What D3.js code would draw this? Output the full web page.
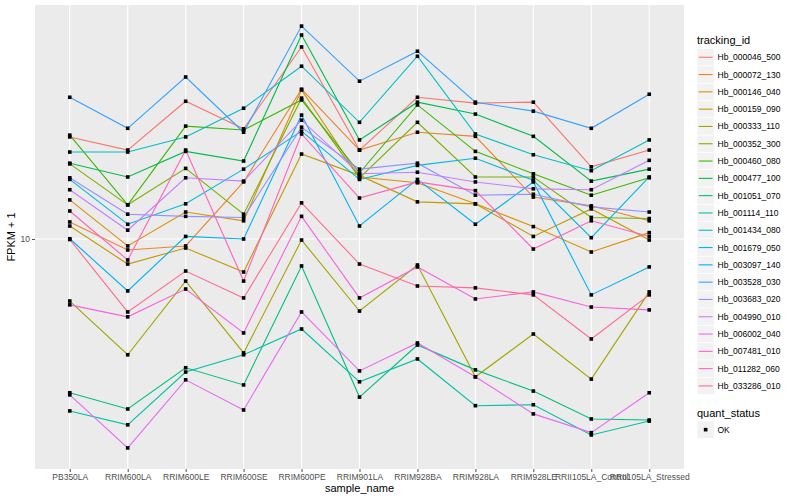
<!DOCTYPE html>
<html><head><meta charset="utf-8">
<script src="https://cdn.jsdelivr.net/npm/d3@7"></script>
<style>body{margin:0;background:#fff}</style>
</head><body>
<svg id="c" width="800" height="500"></svg>
<script>
const samples = ["PB350LA","RRIM600LA","RRIM600LE","RRIM600SE","RRIM600PE","RRIM901LA","RRIM928BA","RRIM928LA","RRIM928LE","RRII105LA_Control","RRII105LA_Stressed"];
const trackingIds = ["Hb_000046_500","Hb_000072_130","Hb_000146_040","Hb_000159_090","Hb_000333_110","Hb_000352_300","Hb_000460_080","Hb_000477_100","Hb_001051_070","Hb_001114_110","Hb_001434_080","Hb_001679_050","Hb_003097_140","Hb_003528_030","Hb_003683_020","Hb_004990_010","Hb_006002_040","Hb_007481_010","Hb_011282_060","Hb_033286_010"];
const seriesColors = ["#F8766D","#EA8331","#D89000","#C09B00","#A3A500","#7CAE00","#39B600","#00BB4E","#00BF7D","#00C1A3","#00BFC4","#00BAE0","#00B0F6","#35A2FF","#9590FF","#C77CFF","#E76BF3","#FA62DB","#FF62BC","#FF6C91"];
const yTicks = [10];
const quantStatus = ["OK"];

// FPKM + 1 per sample, one array per tracking_id
const hb_000046_500 = [21.9, 19.8, 28.8, 23.3, 43.7, 19.8, 29.7, 28.4, 28.6, 17.4, 19.8];
const hb_000072_130 = [11.4, 9.19, 9.48, 15.5, 31.6, 19.8, 22.7, 22.0, 13.8, 12.9, 11.5];
const hb_000146_040 = [13.5, 9.48, 12.3, 11.5, 31.4, 16.1, 15.4, 13.1, 11.0, 9.05, 10.5];
const hb_000159_090 = [11.05, 8.25, 9.33, 7.76, 19.2, 16.3, 13.3, 13.1, 10.2, 12.6, 9.92];
const hb_000333_110 = [6.21, 4.11, 7.24, 4.17, 9.92, 5.75, 8.19, 3.47, 4.82, 3.41, 6.66];
const hb_000352_300 = [17.8, 13.0, 17.2, 12.1, 29.5, 16.0, 24.5, 16.1, 16.1, 11.8, 11.7];
const hb_000460_080 = [22.2, 13.0, 23.8, 23.1, 29.1, 16.6, 28.0, 19.6, 16.5, 14.0, 16.0];
const hb_000477_100 = [17.9, 16.1, 19.6, 18.2, 47.9, 21.4, 28.6, 26.1, 22.0, 15.6, 17.1];
const hb_001051_070 = [3.07, 2.71, 3.72, 3.26, 8.13, 2.97, 4.43, 3.66, 3.11, 2.51, 2.49];
const hb_001114_110 = [2.67, 2.40, 3.60, 4.11, 5.01, 3.34, 3.98, 2.78, 2.80, 2.22, 2.47];
const hb_001434_080 = [19.5, 19.5, 21.9, 27.3, 37.7, 24.5, 40.7, 22.4, 19.1, 16.9, 21.4];
const hb_001679_050 = [15.8, 11.2, 13.1, 17.1, 22.9, 15.8, 17.6, 18.6, 15.7, 10.1, 16.1];
const hb_003097_140 = [10.02, 6.71, 10.2, 10.0, 25.9, 11.05, 15.8, 11.2, 15.5, 6.51, 8.07];
const hb_003528_030 = [29.7, 23.4, 34.7, 22.7, 51.3, 33.6, 42.3, 28.6, 26.7, 23.4, 30.4];
const hb_003683_020 = [16.0, 12.1, 11.9, 11.8, 23.6, 17.1, 17.9, 14.0, 14.1, 12.8, 12.3];
const hb_004990_010 = [14.6, 10.7, 16.0, 15.6, 24.9, 16.5, 16.7, 15.5, 14.7, 14.6, 18.3];
const hb_006002_040 = [3.02, 2.01, 3.39, 2.69, 5.71, 3.63, 4.50, 3.47, 2.61, 2.26, 3.07];
const hb_007481_010 = [6.03, 5.50, 6.81, 4.86, 11.9, 6.36, 8.07, 6.31, 6.66, 5.93, 5.80];
const hb_011282_060 = [12.4, 8.51, 19.8, 7.24, 22.4, 13.7, 15.5, 14.5, 9.26, 11.5, 10.2];
const hb_033286_010 = [9.96, 5.71, 7.82, 6.36, 13.2, 8.25, 6.97, 6.87, 6.51, 4.64, 6.51];

const seriesValues = [hb_000046_500, hb_000072_130, hb_000146_040, hb_000159_090, hb_000333_110, hb_000352_300, hb_000460_080, hb_000477_100, hb_001051_070, hb_001114_110, hb_001434_080, hb_001679_050, hb_003097_140, hb_003528_030, hb_003683_020, hb_004990_010, hb_006002_040, hb_007481_010, hb_011282_060, hb_033286_010];

const series = trackingIds.map((id, i) => ({id, color: seriesColors[i], values: seriesValues[i].map((v, j) => ({sample: samples[j], v}))}));

const svg = d3.select("#c");
const font = "'Liberation Sans', Arial, Helvetica, sans-serif";
const panel = {left: 35, right: 684, top: 5, bottom: 469};

svg.append("rect").attr("x", panel.left).attr("y", panel.top)
  .attr("width", panel.right - panel.left).attr("height", panel.bottom - panel.top)
  .attr("fill", "#EBEBEB");

const x = d3.scalePoint().domain(samples).range([panel.left, panel.right]).padding(0.6);

const all = seriesValues.flat();
const lmin = Math.log10(d3.min(all)), lmax = Math.log10(d3.max(all));
const ext = (lmax - lmin) * 0.05;
const y = d3.scaleLog().domain([Math.pow(10, lmin - ext), Math.pow(10, lmax + ext)]).range([panel.bottom, panel.top]);

// grid
const g = svg.append("g");
g.selectAll("line.vg").data(samples).join("line")
  .attr("x1", d => x(d)).attr("x2", d => x(d)).attr("y1", panel.top).attr("y2", panel.bottom)
  .attr("stroke", "#fff").attr("stroke-width", 1.1);
g.selectAll("line.hg").data(yTicks).join("line")
  .attr("x1", panel.left).attr("x2", panel.right).attr("y1", d => y(d)).attr("y2", d => y(d))
  .attr("stroke", "#fff").attr("stroke-width", 1.1);

// lines
const line = d3.line().x(d => x(d.sample)).y(d => y(d.v));
svg.append("g").selectAll("path").data(series).join("path")
  .attr("d", d => line(d.values)).attr("fill", "none")
  .attr("stroke", d => d.color).attr("stroke-width", 1.1);

// points
const pts = series.flatMap(s => s.values);
svg.append("g").selectAll("rect").data(pts).join("rect")
  .attr("x", d => x(d.sample) - 1.8).attr("y", d => y(d.v) - 1.8)
  .attr("width", 3.6).attr("height", 3.6).attr("fill", "#000");

// axes
const xAxis = d3.axisBottom(x).tickSize(3).tickPadding(2);
const xa = svg.append("g").attr("transform", `translate(0,${panel.bottom})`).call(xAxis);
xa.select(".domain").remove();
xa.selectAll("line").attr("stroke", "#4D4D4D");
xa.selectAll("text").attr("fill", "#4D4D4D").style("font-family", font).style("font-size", "8.5px");

const yAxis = d3.axisLeft(y).tickValues(yTicks).tickFormat(d3.format("d")).tickSize(3).tickPadding(2);
const ya = svg.append("g").attr("transform", `translate(${panel.left},0)`).call(yAxis);
ya.select(".domain").remove();
ya.selectAll("line").attr("stroke", "#4D4D4D");
ya.selectAll("text").attr("fill", "#4D4D4D").style("font-family", font).style("font-size", "8.5px");

svg.append("text").attr("x", (panel.left + panel.right) / 2).attr("y", 492)
  .attr("text-anchor", "middle").style("font-family", font).style("font-size", "11px").text("sample_name");
svg.append("text").attr("transform", `translate(15,${(panel.top + panel.bottom) / 2}) rotate(-90)`)
  .attr("text-anchor", "middle").style("font-family", font).style("font-size", "11px").text("FPKM + 1");

// legend
const lg = svg.append("g");
lg.append("text").attr("x", 697).attr("y", 44).style("font-family", font).style("font-size", "11px").text("tracking_id");
const keyH = 17.3, key0 = 48.6;
const items = lg.selectAll("g.it").data(series).join("g").attr("transform", (d, i) => `translate(697,${key0 + i * keyH})`);
items.append("rect").attr("width", 17.3).attr("height", keyH).attr("fill", "#F2F2F2").attr("stroke", "#fff").attr("stroke-width", 0.6);
items.append("line").attr("x1", 1.7).attr("x2", 15.6).attr("y1", keyH / 2).attr("y2", keyH / 2).attr("stroke", d => d.color).attr("stroke-width", 1.1);
items.append("text").attr("x", 20.5).attr("y", keyH / 2 + 3).style("font-family", font).style("font-size", "8.5px").text(d => d.id);

lg.append("text").attr("x", 697).attr("y", 417).style("font-family", font).style("font-size", "11px").text("quant_status");
const q = lg.selectAll("g.q").data(quantStatus).join("g").attr("transform", (d, i) => `translate(697,${421 + i * keyH})`);
q.append("rect").attr("width", 17.3).attr("height", keyH).attr("fill", "#F2F2F2").attr("stroke", "#fff").attr("stroke-width", 0.6);
q.append("rect").attr("x", 8.65 - 1.8).attr("y", keyH / 2 - 1.8).attr("width", 3.6).attr("height", 3.6).attr("fill", "#000");
q.append("text").attr("x", 20.5).attr("y", keyH / 2 + 3).style("font-family", font).style("font-size", "8.5px").text(d => d);
</script>
</body></html>
